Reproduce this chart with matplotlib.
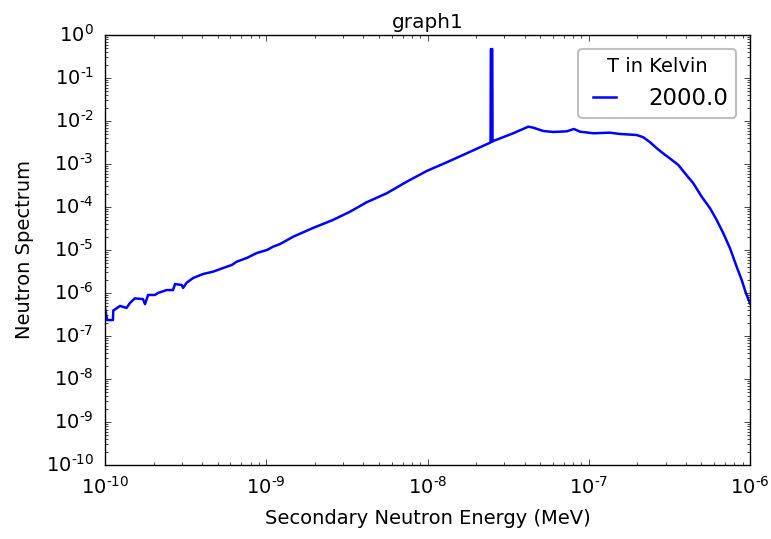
import numpy as np
import matplotlib
matplotlib.use("Agg")
import matplotlib.pyplot as plt
from matplotlib.ticker import FuncFormatter

# energy grid (MeV) and spectrum values
energy = [1.0e-10, 1.03e-10, 1.12e-10, 1.125e-10, 1.24e-10, 1.36e-10, 1.43e-10,
          1.53e-10, 1.72e-10, 1.77e-10, 1.85e-10, 2.04e-10, 2.13e-10, 2.41e-10,
          2.64e-10, 2.72e-10, 2.99e-10, 3.05e-10, 3.21e-10, 3.52e-10, 4.06e-10,
          4.68e-10, 5.40e-10, 6.11e-10, 6.56e-10, 7.57e-10, 8.73e-10, 1.01e-9,
          1.10e-9, 1.22e-9, 1.47e-9, 1.95e-9, 2.59e-9, 3.31e-9, 4.20e-9,
          5.58e-9, 7.43e-9, 9.89e-9, 1.32e-8, 1.75e-8, 2.46e-8, 2.47e-8,
          2.52e-8, 2.53e-8, 2.56e-8, 3.40e-8, 4.22e-8, 4.53e-8, 5.22e-8,
          6.03e-8, 7.30e-8, 8.09e-8, 8.82e-8, 1.07e-7, 1.35e-7, 1.56e-7,
          1.98e-7, 2.18e-7, 2.40e-7, 2.64e-7, 2.90e-7, 3.19e-7, 3.59e-7,
          3.95e-7, 4.45e-7, 5.01e-7, 5.65e-7, 6.21e-7, 6.83e-7, 7.51e-7,
          8.26e-7, 8.88e-7, 9.44e-7, 9.9e-7, 1.0e-6]
spectrum = [4.5e-7, 2.35e-7, 2.35e-7, 3.9e-7, 5.0e-7, 4.5e-7, 5.9e-7,
            7.5e-7, 7.2e-7, 5.5e-7, 9.0e-7, 9.0e-7, 1.0e-6, 1.17e-6,
            1.17e-6, 1.62e-6, 1.53e-6, 1.31e-6, 1.74e-6, 2.23e-6, 2.77e-6,
            3.13e-6, 3.81e-6, 4.48e-6, 5.35e-6, 6.52e-6, 8.5e-6, 1.0e-5,
            1.19e-5, 1.38e-5, 2.04e-5, 3.25e-5, 4.99e-5, 7.78e-5, 1.29e-4,
            2.08e-4, 3.87e-4, 6.87e-4, 1.10e-3, 1.77e-3, 3.16e-3, 0.47,
            0.47, 3.3e-3, 3.43e-3, 5.18e-3, 7.37e-3, 6.99e-3, 5.85e-3,
            5.55e-3, 5.75e-3, 6.52e-3, 5.64e-3, 5.18e-3, 5.35e-3, 4.99e-3,
            4.72e-3, 4.18e-3, 3.2e-3, 2.32e-3, 1.75e-3, 1.34e-3, 9.5e-4,
            6.08e-4, 3.56e-4, 1.74e-4, 9.33e-5, 4.99e-5, 2.45e-5, 1.10e-5,
            4.09e-6, 2.0e-6, 9.84e-7, 6.28e-7, 5.7e-7]

plt.style.use("classic")
plt.rcParams["axes.unicode_minus"] = False
plt.rcParams["font.size"] = 14
plt.rcParams["mathtext.fontset"] = "dejavusans"
plt.rcParams["mathtext.default"] = "regular"


def pow10(v, pos):
    e = int(round(np.log10(v)))
    return r"$10^{\text{%d}}$" % e


fig = plt.figure(figsize=(7.71, 5.39), dpi=100)
ax = fig.add_axes([0.1362, 0.1373, 0.8366, 0.7978])

ax.plot(energy, spectrum, color="blue", lw=1.8, label="2000.0")
ax.set_xscale("log")
ax.set_yscale("log")
ax.set_xlim(1e-10, 1e-6)
ax.set_ylim(1e-10, 1e0)
ax.xaxis.set_major_formatter(FuncFormatter(pow10))
ax.yaxis.set_major_formatter(FuncFormatter(pow10))
ax.set_xlabel("Secondary Neutron Energy (MeV)", fontsize=14, labelpad=8)
ax.set_ylabel("Neutron Spectrum", fontsize=14, labelpad=8)
ax.set_title("graph1", fontsize=14.4)
ax.tick_params(labelsize=14, pad=8)

leg = ax.legend(loc="upper right", title="T in Kelvin", fancybox=True,
                fontsize=16.5, framealpha=0.5, handlelength=1.6,
                handletextpad=1.1, borderpad=0.35, borderaxespad=0.6)
leg.get_title().set_fontsize(14)
leg.get_frame().set_edgecolor("gray")
leg.get_frame().set_linewidth(1.5)

fig.savefig("out.png", dpi=100)
